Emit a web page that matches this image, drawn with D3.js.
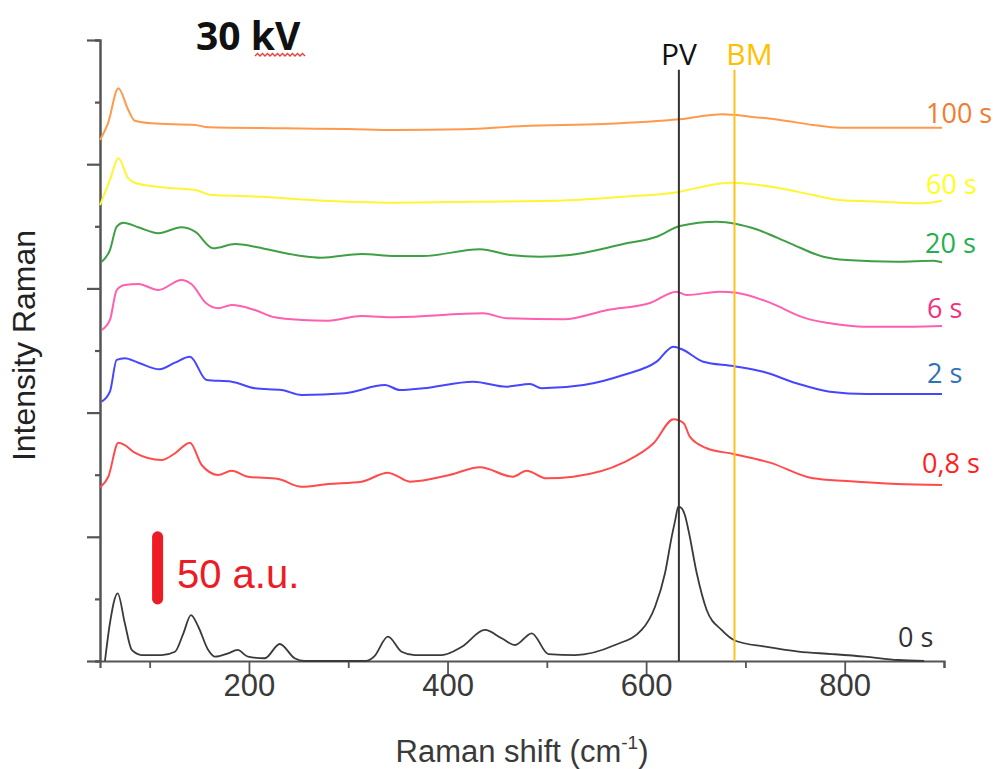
<!DOCTYPE html>
<html>
<head>
<meta charset="utf-8">
<script src="https://cdn.jsdelivr.net/npm/d3@7"></script>
<style>
  html, body { margin: 0; padding: 0; background: #ffffff; }
  svg { display: block; }
</style>
</head>
<body>
<svg id="chart" width="998" height="769"></svg>
<script>
// ---------------- DATA ----------------
const seriesLabels = ["100 s", "60 s", "20 s", "6 s", "2 s", "0,8 s", "0 s"];

const shift100s = [50, 58, 68.5, 78.5, 85, 102, 146, 159, 236, 300, 347, 416, 476, 557, 634, 677, 705, 735, 768, 795, 898];
const intensity100s = [419.5, 432.9, 461.1, 443.6, 435.0, 432.9, 431.6, 429.7, 428.9, 428.3, 427.5, 428.1, 430.8, 432.4, 436.2, 440.2, 438.3, 435.6, 431.6, 429.4, 429.4];

const shift60s = [50, 60, 68.5, 78.5, 85, 112, 146, 162, 213, 263, 347, 426, 510, 577, 634, 657, 684, 705, 735, 768, 795, 835, 876, 898];
const intensity60s = [367.1, 387.3, 404.7, 388.6, 385.1, 381.4, 379.2, 375.2, 373.8, 371.2, 369.0, 369.8, 370.6, 373.8, 377.9, 381.9, 385.1, 384.1, 380.6, 375.2, 371.2, 369.8, 368.5, 370.6];

const shift20s = [51.7, 60, 66.8, 73.5, 88.6, 108.7, 132, 145.7, 164, 186, 206, 229.6, 253, 273, 313.5, 347, 375, 432.7, 463, 493, 523, 577, 610.6, 634, 671, 691, 711, 745, 778.5, 802, 852.8, 889.7, 898];
const intensity20s = [321.5, 330.9, 349.7, 352.9, 349.2, 344.4, 349.2, 345.7, 332.3, 335.7, 333.6, 329.5, 326.1, 324.7, 327.7, 326.1, 326.1, 331.5, 326.9, 325.5, 326.9, 335.7, 341.6, 350.2, 353.7, 351.9, 347.6, 336.3, 325.5, 322.9, 321.5, 322.3, 321.0];

const shift6s = [51.7, 60, 66.8, 75, 88.6, 108.7, 132, 142, 157, 169, 182.6, 206, 226, 253, 280, 313.5, 347, 436, 460, 517, 561, 604.6, 630.7, 640.8, 674, 691, 724.7, 758, 792, 818.6, 869, 898];
const intensity6s = [266.5, 274.6, 298.7, 302.7, 303.5, 298.7, 306.8, 303.5, 288.0, 284.0, 286.6, 282.6, 276.7, 274.6, 274.0, 277.8, 276.7, 279.9, 275.9, 275.1, 282.6, 288.5, 297.3, 294.7, 297.3, 296.5, 288.5, 276.7, 271.1, 269.2, 269.2, 269.7];

const shift2s = [51.7, 60, 66.8, 75, 88.6, 110, 125.5, 140.6, 157.4, 182.6, 206, 233, 253, 296.7, 337, 352, 375.6, 426, 459.5, 483, 494.8, 537, 577, 610.6, 627.4, 637.5, 657.5, 687.7, 718, 751.5, 785, 822, 898];
const intensity2s = [208.8, 216.8, 242.4, 243.7, 240.2, 234.9, 240.2, 245.0, 226.2, 224.9, 219.6, 218.2, 214.2, 215.6, 222.2, 218.2, 219.6, 224.9, 220.9, 223.0, 219.6, 222.2, 230.3, 241.0, 253.1, 250.4, 241.0, 237.5, 232.9, 223.6, 216.8, 215.0, 215.0];

const shift08s = [50, 58.4, 68.5, 75, 85, 112, 125.5, 140.6, 152.4, 169, 182.6, 199, 229.6, 253, 280, 313.5, 340, 347, 362, 402, 432.7, 466, 479.6, 499.8, 526.6, 577, 607.5, 627.7, 637.8, 644, 661, 688, 724.7, 768, 802, 852.8, 898];
const intensity08s = [139.9, 148.4, 175.8, 173.9, 167.7, 161.8, 167.2, 175.8, 157.8, 149.8, 153.2, 148.4, 146.5, 140.3, 142.5, 144.4, 151.6, 149.8, 144.4, 149.8, 156.0, 148.4, 153.2, 147.1, 148.4, 159.7, 175.3, 194.6, 191.4, 180.6, 171.3, 166.7, 159.7, 147.1, 144.9, 142.5, 141.7];

const shift0s = [55, 60, 67.8, 75, 82, 92, 112, 125.5, 134, 141.6, 149, 159, 166, 179, 188.6, 199, 216, 231, 246, 256, 318, 326, 340, 353.7, 367, 394, 414.4, 437.7, 454.5, 468, 484.8, 501.6, 528.5, 568.6, 595.5, 609, 619, 625.8, 629, 632.5, 635.9, 639, 642.6, 651, 661, 676, 689.8, 720, 753.6, 787, 820, 853.8, 880];
const intensity0s = [0, 30.4, 54.5, 30.4, 8.9, 4.8, 4.8, 7.5, 22.3, 37.0, 27.6, 8.9, 3.5, 6.2, 8.9, 3.5, 2.2, 13.7, 2.2, 0, 0, 3.5, 19.6, 7.5, 4.8, 4.8, 11.5, 25.0, 18.3, 12.9, 22.3, 5.6, 4.8, 12.9, 25.0, 43.7, 70.6, 100.1, 112.2, 124.2, 122.9, 117.5, 105.5, 70.6, 41.1, 25.0, 16.3, 11.5, 7.5, 5.6, 3.5, 0.8, 0];

const xTickValues = [100, 200, 300, 400, 500, 600, 700, 800, 900];
const xTickLabels = ["", "200", "", "400", "", "600", "", "800", ""];
const yTickValues = [0, 50, 100, 150, 200, 250, 300, 350, 400, 450, 500];

const refLineNames = ["PV", "BM"];
const refLineShifts = [633, 689];
const refLineTop = 476;          // a.u., where the marker lines stop

const scaleBarValues = [50, 100]; // 50 a.u. bar
const scaleBarShift = 108;
const scaleBarLabel = "50 a.u.";
const chartTitle = "30 kV";

// ---------------- STYLE / LAYOUT ----------------
const lineColors  = ["#FF9A4D", "#FFF533", "#3F9F45", "#FF5FAE", "#4646FF", "#FF4B4B", "#3a3a3a"];
const labelColors = ["#F47B2E", "#FFFF1A", "#22B04F", "#F4307F", "#2E74B5", "#FF2020", "#333333"];
const labelX  = [926, 926, 925, 927, 927, 922, 898];
const labelDy = [5, 7, 9, 8, 11, 12, 14];
const refLineColors = ["#333333", "#FFC21A"];
const refLabelColors = ["#111111", "#FFC000"];

const shifts = [shift100s, shift60s, shift20s, shift6s, shift2s, shift08s, shift0s];
const intensities = [intensity100s, intensity60s, intensity20s, intensity6s, intensity2s, intensity08s, intensity0s];

const series = seriesLabels.map((name, i) => ({
  name,
  points: shifts[i].map((s, j) => ({ shift: s, value: intensities[i][j] })),
  color: lineColors[i],
  labelColor: labelColors[i],
  lx: labelX[i],
  ldy: labelDy[i]
}));

const svg = d3.select("#chart");
svg.append("rect").attr("width", 998).attr("height", 769).attr("fill", "#ffffff");

const x = d3.scaleLinear().domain([50, 900]).range([100, 944]);
const y = d3.scaleLinear().domain([0, 500]).range([661, 40]);

const axisColor = "#555555";

// Y axis
const yAxisG = svg.append("g").attr("transform", `translate(${x(50)},0)`)
  .call(d3.axisLeft(y).tickValues(yTickValues).tickFormat("").tickSizeOuter(0).tickSize(5));
yAxisG.select(".domain").attr("stroke", axisColor).attr("stroke-width", 2.5);
yAxisG.selectAll(".tick line")
  .attr("stroke", axisColor).attr("stroke-width", 2.2)
  .attr("x2", d => (d % 100 === 0 ? -13 : -5));

// X axis
const xAxisG = svg.append("g").attr("transform", `translate(0,${y(0)})`)
  .call(d3.axisBottom(x).tickValues(xTickValues)
    .tickFormat((d, i) => xTickLabels[i]).tickSizeOuter(0).tickSize(7).tickPadding(6));
xAxisG.select(".domain").attr("stroke", axisColor).attr("stroke-width", 2.2);
xAxisG.selectAll(".tick line")
  .attr("stroke", axisColor).attr("stroke-width", 1.8)
  .attr("y2", d => (d % 200 === 0 ? 13 : 7));
xAxisG.selectAll(".tick text")
  .attr("fill", "#3a3a3a")
  .attr("font-family", "'Liberation Sans', Arial, sans-serif")
  .attr("font-size", 31);

// Axis titles
svg.append("text")
  .attr("x", (x(50) + x(900)) / 2).attr("y", 762)
  .attr("text-anchor", "middle")
  .attr("font-family", "'Liberation Sans', Arial, sans-serif")
  .attr("font-size", 31).attr("fill", "#3a3a3a")
  .call(t => {
    t.append("tspan").text("Raman shift (cm");
    t.append("tspan").attr("font-size", 19).attr("dy", -13).text("-1");
    t.append("tspan").attr("dy", 13).text(")");
  });

svg.append("text")
  .attr("transform", `translate(35,${(y(0) + y(500)) / 2 - 5}) rotate(-90)`)
  .attr("text-anchor", "middle")
  .attr("font-family", "'Liberation Sans', Arial, sans-serif")
  .attr("font-size", 32).attr("fill", "#222222")
  .text("Intensity Raman");

// Spectra
const line = d3.line()
  .x(d => x(d.shift))
  .y(d => y(d.value))
  .curve(d3.curveMonotoneX);

svg.append("g").selectAll("path")
  .data(series)
  .join("path")
  .attr("d", d => line(d.points))
  .attr("fill", "none")
  .attr("stroke", d => d.color)
  .attr("stroke-width", (d, i) => (i === 6 ? 1.8 : 2))
  .attr("stroke-linejoin", "round");

// Series labels
svg.append("g").selectAll("text")
  .data(series)
  .join("text")
  .attr("x", d => d.lx)
  .attr("y", d => y(d.points[d.points.length - 1].value) - d.ldy)
  .attr("font-family", "'Open Sans', 'Noto Sans', sans-serif")
  .attr("font-size", 27)
  .attr("fill", d => d.labelColor)
  .text(d => d.name);

// Reference lines (PV, BM)
refLineNames.forEach((name, i) => {
  svg.append("line")
    .attr("x1", x(refLineShifts[i])).attr("x2", x(refLineShifts[i]))
    .attr("y1", y(refLineTop)).attr("y2", y(0))
    .attr("stroke", refLineColors[i])
    .attr("stroke-width", 2);
  svg.append("text")
    .attr("x", x(refLineShifts[i]) + (i === 0 ? 0 : 15))
    .attr("y", 65)
    .attr("text-anchor", "middle")
    .attr("font-family", "'Open Sans', 'Noto Sans', sans-serif")
    .attr("font-size", 30)
    .attr("fill", refLabelColors[i])
    .text(name);
});

// Scale bar
svg.append("line")
  .attr("x1", x(scaleBarShift)).attr("x2", x(scaleBarShift))
  .attr("y1", y(scaleBarValues[0])).attr("y2", y(scaleBarValues[1]))
  .attr("stroke", "#ED1C24").attr("stroke-width", 11).attr("stroke-linecap", "round");
svg.append("text")
  .attr("x", 177).attr("y", 588)
  .attr("font-family", "'Liberation Sans', Arial, sans-serif")
  .attr("font-size", 40)
  .attr("fill", "#ED1C24")
  .text(scaleBarLabel);

// Title
svg.append("text")
  .attr("x", 196).attr("y", 50)
  .attr("font-family", "'Open Sans', 'Noto Sans', sans-serif")
  .attr("font-weight", 700)
  .attr("font-size", 39)
  .attr("fill", "#111111")
  .text(chartTitle);

// spell-check style wavy underline under "kV"
(function () {
  let d = "M255,56";
  for (let xx = 255, k = 0; xx < 303; xx += 2.5, k++) {
    d += ` L${xx + 2.5},${k % 2 === 0 ? 53.5 : 56}`;
  }
  svg.append("path").attr("d", d).attr("fill", "none")
    .attr("stroke", "#E8413B").attr("stroke-width", 1.4);
})();
</script>
</body>
</html>
